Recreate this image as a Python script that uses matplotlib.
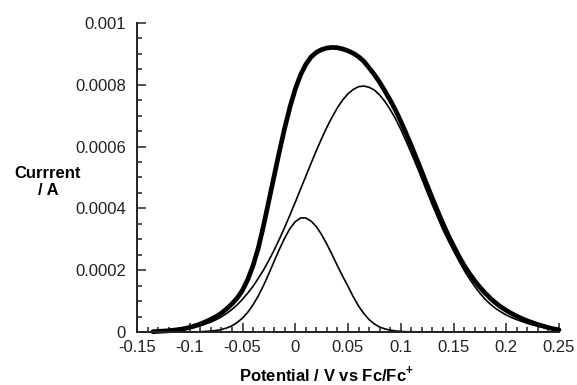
import matplotlib
matplotlib.use("Agg")
import numpy as np
import matplotlib.pyplot as plt
from matplotlib.ticker import MultipleLocator, FixedLocator

plt.rcParams["font.family"] = ["Liberation Sans", "DejaVu Sans"]
plt.rcParams["mathtext.fontset"] = "custom"
plt.rcParams["mathtext.rm"] = "Liberation Sans"
plt.rcParams["mathtext.bf"] = "Liberation Sans:bold"

# Potential (V vs Fc/Fc+), sampled every 5 mV from -0.135 V to 0.25 V
potential = np.round(np.arange(-135, 251, 5) / 1000.0, 3)

# Measured current (x1e-4 A)
current_total = [
    0.01, 0.02, 0.03, 0.04, 0.06, 0.08, 0.11, 0.15, 0.20, 0.26,
    0.33, 0.41, 0.50, 0.61, 0.75, 0.91, 1.10, 1.35, 1.70, 2.15,
    2.72, 3.45, 4.25, 5.05, 5.85, 6.60, 7.28, 7.86, 8.32, 8.66,
    8.90, 9.05, 9.14, 9.19, 9.21, 9.20, 9.16, 9.10, 9.02, 8.91,
    8.76, 8.55, 8.33, 8.08, 7.80, 7.50, 7.18, 6.82, 6.43, 6.03,
    5.61, 5.18, 4.75, 4.32, 3.91, 3.51, 3.13, 2.79, 2.46, 2.16,
    1.90, 1.66, 1.45, 1.26, 1.09, 0.94, 0.81, 0.70, 0.60, 0.51,
    0.43, 0.36, 0.30, 0.24, 0.19, 0.14, 0.10, 0.07]

# Fitted component 1: narrow wave (x1e-4 A)
current_peak1 = [
    0.00, 0.00, 0.00, 0.00, 0.00, 0.00, 0.00, 0.00, 0.00, 0.01,
    0.02, 0.03, 0.05, 0.08, 0.13, 0.20, 0.31, 0.45, 0.64, 0.88,
    1.17, 1.51, 1.89, 2.29, 2.68, 3.04, 3.35, 3.57, 3.69, 3.69,
    3.59, 3.41, 3.15, 2.84, 2.50, 2.14, 1.80, 1.48, 1.14, 0.84,
    0.60, 0.40, 0.26, 0.16, 0.10, 0.06, 0.035, 0.02, 0.01, 0.01,
    0.00, 0.00, 0.00, 0.00, 0.00, 0.00, 0.00, 0.00, 0.00, 0.00,
    0.00, 0.00, 0.00, 0.00, 0.00, 0.00, 0.00, 0.00, 0.00, 0.00,
    0.00, 0.00, 0.00, 0.00, 0.00, 0.00, 0.00, 0.00]

# Fitted component 2: broad wave (x1e-4 A)
current_peak2 = [
    0.02, 0.02, 0.03, 0.04, 0.06, 0.07, 0.10, 0.12, 0.16, 0.20,
    0.26, 0.32, 0.40, 0.49, 0.60, 0.73, 0.88, 1.06, 1.26, 1.48,
    1.74, 2.01, 2.32, 2.65, 3.01, 3.39, 3.79, 4.20, 4.62, 5.04,
    5.46, 5.87, 6.26, 6.63, 6.96, 7.26, 7.51, 7.71, 7.85, 7.94,
    7.96, 7.92, 7.83, 7.67, 7.46, 7.20, 6.90, 6.56, 6.18, 5.79,
    5.38, 4.96, 4.53, 4.11, 3.71, 3.31, 2.96, 2.63, 2.31, 2.00,
    1.73, 1.48, 1.26, 1.06, 0.90, 0.76, 0.65, 0.55, 0.47, 0.40,
    0.34, 0.28, 0.23, 0.19, 0.15, 0.12, 0.09, 0.07]

x_ticks = [-0.15, -0.1, -0.05, 0, 0.05, 0.1, 0.15, 0.2, 0.25]
x_ticklabels = ["-0.15", "-0.1", "-0.05", "0", "0.05", "0.1", "0.15", "0.2", "0.25"]
y_ticks = [0, 0.0002, 0.0004, 0.0006, 0.0008, 0.001]
y_ticklabels = ["0", "0.0002", "0.0004", "0.0006", "0.0008", "0.001"]

scale = 1e-4

fig = plt.figure(figsize=(5.77, 3.85), dpi=100)
ax = fig.add_axes([137 / 577, 1 - 332 / 385, 422 / 577, 309 / 385])

ax.plot(potential, np.array(current_peak1) * scale, color="black", lw=1.2,
        clip_on=False)
ax.plot(potential, np.array(current_peak2) * scale, color="black", lw=1.2,
        clip_on=False)
ax.plot(potential, np.array(current_total) * scale, color="black", lw=3.4,
        solid_capstyle="round", solid_joinstyle="round", clip_on=False)

ax.set_xlim(-0.15, 0.25)
ax.set_ylim(0, 0.001)

ax.xaxis.set_major_locator(FixedLocator(x_ticks))
ax.set_xticklabels(x_ticklabels)
ax.xaxis.set_minor_locator(MultipleLocator(0.01))
ax.yaxis.set_major_locator(FixedLocator(y_ticks))
ax.set_yticklabels(y_ticklabels)
ax.yaxis.set_minor_locator(MultipleLocator(0.00005))

for side in ("top", "right"):
    ax.spines[side].set_visible(False)
for side in ("left", "bottom"):
    ax.spines[side].set_linewidth(1.4)
    ax.spines[side].set_color("#222222")

ax.tick_params(which="both", direction="in", color="#222222", width=1.1,
               top=False, right=False)
ax.tick_params(which="major", length=6.5, labelsize=12, colors="#222222")
ax.tick_params(axis="y", which="major", pad=8)
ax.tick_params(axis="x", which="major", pad=6)
ax.tick_params(which="minor", length=3.8)

fig.text(48 / 577, 1 - 182 / 385, "Currrent\n/ A", ha="center", va="center",
         fontsize=12, fontweight="bold", linespacing=1.1)
fig.text(326 / 577, 1 - 374 / 385, r"Potential / V vs Fc/Fc$^{\mathbf{+}}$",
         ha="center", va="center", fontsize=12, fontweight="bold")

fig.savefig("out.png", dpi=100)
